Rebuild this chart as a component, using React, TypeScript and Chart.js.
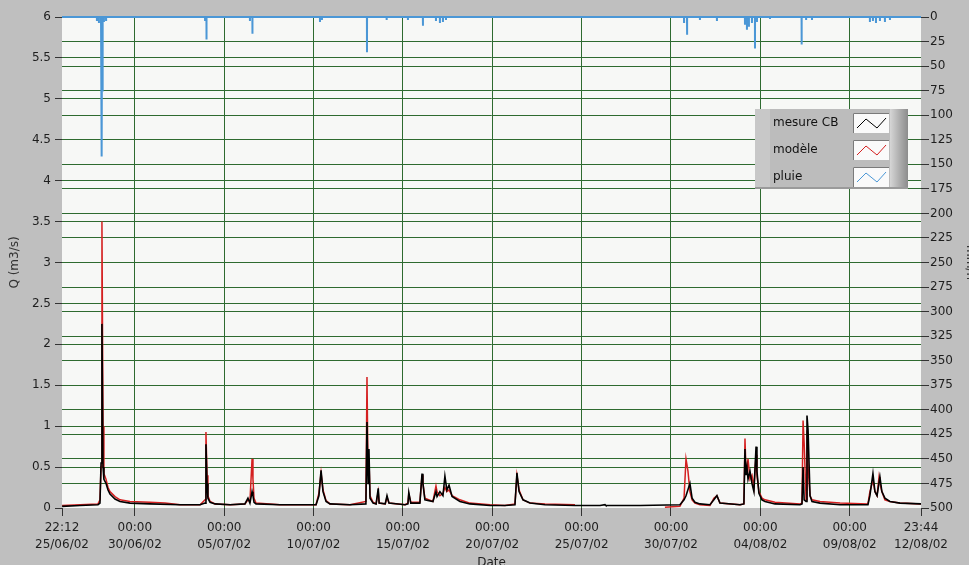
import React, { useEffect, useRef } from "react";
import { Chart, registerables } from "chart.js";
Chart.register(...registerables);

// ---- Data (x in days since 25/06/02 00:00) ----
const xTickDays = [0.925, 5, 10, 15, 20, 25, 30, 35, 40, 45, 48.989];
const xTickTimes = ["22:12", "00:00", "00:00", "00:00", "00:00", "00:00", "00:00", "00:00", "00:00", "00:00", "23:44"];
const xTickDates = ["25/06/02", "30/06/02", "05/07/02", "10/07/02", "15/07/02", "20/07/02", "25/07/02", "30/07/02", "04/08/02", "09/08/02", "12/08/02"];

const mesureDays = [0.93, 1.93, 2.94, 3.05, 3.11, 3.16, 3.22, 3.27, 3.39, 3.5, 3.61, 3.89, 4.17, 4.73, 5.85, 7.53, 8.65, 8.93, 8.98, 9.04, 9.09, 9.21, 9.49, 10.33, 11.16, 11.33, 11.44, 11.56, 11.61, 11.67, 11.78, 13.12, 15.14, 15.3, 15.42, 15.53, 15.7, 15.92, 17.04, 17.93, 17.99, 18.05, 18.1, 18.16, 18.33, 18.5, 18.62, 18.67, 19.01, 19.11, 19.22, 20.12, 20.28, 20.33, 20.44, 20.95, 21.07, 21.12, 21.23, 21.68, 21.85, 21.91, 22.07, 22.24, 22.35, 22.46, 22.58, 22.75, 23.19, 23.75, 24.87, 25.71, 26.27, 26.38, 26.5, 26.72, 27.11, 27.95, 29.63, 31.03, 31.31, 31.36, 33.27, 35.5, 35.73, 35.84, 36.06, 36.18, 36.34, 36.62, 37.18, 37.4, 37.57, 37.74, 38.86, 39.08, 39.14, 39.19, 39.25, 39.31, 39.42, 39.53, 39.64, 39.76, 39.81, 39.92, 40.09, 40.26, 40.82, 42.22, 42.33, 42.39, 42.45, 42.56, 42.61, 42.67, 42.78, 42.89, 43.34, 44.46, 46.02, 46.13, 46.3, 46.41, 46.53, 46.69, 46.8, 46.97, 47.25, 47.81, 48.99];
const mesureQ = [0.02, 0.03, 0.04, 0.06, 0.55, 2.25, 0.5, 0.35, 0.3, 0.22, 0.17, 0.11, 0.08, 0.06, 0.05, 0.04, 0.04, 0.06, 0.78, 0.3, 0.12, 0.07, 0.05, 0.04, 0.05, 0.12, 0.06, 0.2, 0.15, 0.07, 0.05, 0.04, 0.04, 0.15, 0.46, 0.2, 0.08, 0.05, 0.04, 0.05, 1.05, 0.3, 0.72, 0.12, 0.06, 0.05, 0.24, 0.06, 0.05, 0.15, 0.06, 0.04, 0.05, 0.19, 0.06, 0.06, 0.42, 0.3, 0.1, 0.08, 0.2, 0.14, 0.2, 0.15, 0.39, 0.22, 0.28, 0.14, 0.08, 0.05, 0.03, 0.03, 0.04, 0.43, 0.2, 0.1, 0.06, 0.04, 0.03, 0.03, 0.04, 0.03, 0.03, 0.04, 0.1, 0.15, 0.3, 0.12, 0.07, 0.05, 0.04, 0.1, 0.15, 0.06, 0.04, 0.05, 0.72, 0.4, 0.5, 0.35, 0.45, 0.3, 0.2, 0.75, 0.45, 0.18, 0.1, 0.08, 0.05, 0.04, 0.05, 0.5, 0.1, 0.08, 1.13, 0.95, 0.15, 0.08, 0.06, 0.04, 0.04, 0.15, 0.42, 0.2, 0.15, 0.38, 0.2, 0.12, 0.08, 0.06, 0.05];

const modeleDays = [0.93, 2.94, 3.05, 3.11, 3.16, 3.22, 3.27, 3.39, 3.5, 3.61, 3.89, 4.17, 4.73, 5.85, 6.69, 7.53, 8.65, 8.93, 8.98, 9.04, 9.09, 9.21, 9.49, 10.33, 11.16, 11.33, 11.44, 11.56, 11.61, 11.67, 11.78, 13.12, 15.14, 15.3, 15.42, 15.53, 15.7, 15.92, 17.04, 17.93, 17.99, 18.05, 18.1, 18.16, 18.33, 18.5, 18.62, 18.67, 19.01, 19.11, 19.22, 20.12, 20.28, 20.33, 20.44, 20.95, 21.07, 21.12, 21.23, 21.68, 21.85, 21.91, 22.07, 22.24, 22.35, 22.46, 22.58, 22.75, 23.19, 23.75, 24.87, 25.71, 26.27, 26.38, 26.5, 26.72, 27.11, 27.95, 29.63, 29.7, 34.66, 35.5, 35.73, 35.84, 35.95, 36.06, 36.18, 36.34, 36.62, 37.18, 37.4, 37.57, 37.74, 38.86, 39.08, 39.14, 39.19, 39.25, 39.31, 39.42, 39.53, 39.64, 39.76, 39.81, 39.92, 40.09, 40.26, 40.82, 42.22, 42.33, 42.39, 42.45, 42.56, 42.61, 42.67, 42.78, 42.89, 43.34, 44.46, 46.02, 46.13, 46.25, 46.3, 46.41, 46.53, 46.64, 46.69, 46.8, 46.97, 47.25, 47.81, 48.99];
const modeleQ = [0.03, 0.05, 0.1, 0.5, 3.5, 1.0, 0.42, 0.35, 0.25, 0.2, 0.14, 0.1, 0.08, 0.07, 0.06, 0.04, 0.04, 0.1, 0.93, 0.4, 0.15, 0.08, 0.05, 0.04, 0.05, 0.1, 0.08, 0.6, 0.35, 0.12, 0.06, 0.04, 0.04, 0.18, 0.43, 0.22, 0.09, 0.05, 0.04, 0.08, 1.6, 0.4, 0.6, 0.15, 0.07, 0.05, 0.2, 0.06, 0.05, 0.13, 0.06, 0.04, 0.06, 0.17, 0.07, 0.07, 0.4, 0.3, 0.12, 0.08, 0.27, 0.2, 0.15, 0.18, 0.25, 0.2, 0.22, 0.15, 0.1, 0.06, 0.04, 0.03, 0.05, 0.4, 0.22, 0.1, 0.06, 0.05, 0.04, null, 0.01, 0.02, 0.12, 0.6, 0.45, 0.2, 0.1, 0.06, 0.04, 0.03, 0.12, 0.15, 0.06, 0.04, 0.05, 0.85, 0.5, 0.45, 0.6, 0.35, 0.4, 0.25, 0.65, 0.4, 0.2, 0.12, 0.1, 0.07, 0.05, 0.06, 1.07, 0.8, 0.1, 0.95, 0.5, 0.15, 0.1, 0.08, 0.06, 0.05, 0.2, 0.3, 0.35, 0.2, 0.15, 0.38, 0.3, 0.2, 0.1, 0.08, 0.06, 0.05];

const pluieDays = [2.88, 2.99, 3.11, 3.16, 3.2, 3.27, 3.39, 8.93, 9.01, 11.44, 11.58, 15.36, 15.47, 17.99, 19.09, 20.28, 21.12, 21.85, 22.07, 22.24, 22.41, 35.73, 35.9, 36.62, 37.57, 39.14, 39.25, 39.36, 39.53, 39.7, 39.81, 40.54, 42.31, 42.56, 42.89, 46.13, 46.3, 46.47, 46.69, 46.97, 47.25];
const pluieMm = [-4, -6, -8, -142, -76, -5, -3, -3, -23, -4, -17, -5, -3, -36, -3, -3, -9, -4, -6, -5, -3, -5, -18, -3, -4, -8, -13, -10, -6, -32, -5, -2, -28, -3, -3, -5, -4, -6, -4, -5, -3];

const legendNames = ["mesure CB", "modèle", "pluie"];

const BG = "#bfbfbf";
const PLOT_BG = "#f7f8f6";
const GRID = "#2e6b30";
const TICK = "#333333";
const BLACK = "#000000";
const RED = "#d42020";
const BLUE = "#4b97d6";
const FONT = "DejaVu Sans";

function pairs(xs: number[], ys: (number | null)[]) {
  return xs.map((x, i) => ({ x, y: ys[i] }));
}

function rainSeries() {
  const pts: { x: number; y: number }[] = [{ x: xTickDays[0], y: 0 }];
  pluieDays.forEach((t, i) => {
    pts.push({ x: t - 0.004, y: 0 });
    pts.push({ x: t, y: pluieMm[i] });
    pts.push({ x: t + 0.004, y: 0 });
  });
  pts.push({ x: xTickDays[xTickDays.length - 1], y: 0 });
  return pts;
}

const bgPlugin = {
  id: "lvBackground",
  beforeDraw(chart: any) {
    const { ctx, chartArea: a, width, height } = chart;
    ctx.save();
    ctx.fillStyle = BG;
    ctx.fillRect(0, 0, width, height);
    ctx.fillStyle = PLOT_BG;
    ctx.fillRect(a.left, a.top, a.right - a.left, a.bottom - a.top);
    ctx.restore();
  },
};

const legendPlugin = {
  id: "lvLegend",
  afterDraw(chart: any) {
    const { ctx, chartArea: a } = chart;
    const x0 = a.right - 166;
    const y0 = a.top + 92;
    const w = 153;
    const h = 80;
    const colors = chart.data.datasets.map((d: any) => d.borderColor);
    ctx.save();
    ctx.fillStyle = "#bcbcbc";
    ctx.fillRect(x0, y0, w, h);
    ctx.fillStyle = "#c8c8c8";
    ctx.fillRect(x0, y0, 15, h);
    const g = ctx.createLinearGradient(x0 + w - 18, 0, x0 + w, 0);
    g.addColorStop(0, "#d6d6d6");
    g.addColorStop(0.5, "#b0b0b0");
    g.addColorStop(1, "#8c8c8c");
    ctx.fillStyle = g;
    ctx.fillRect(x0 + w - 18, y0, 18, h);
    ctx.fillStyle = "#9a9a9a";
    ctx.fillRect(x0, y0 + h - 2, w, 2);
    ctx.font = `12px "${FONT}"`;
    ctx.textBaseline = "middle";
    ctx.textAlign = "left";
    const rowY = [14, 41, 68];
    legendNames.forEach((name, i) => {
      const cy = y0 + rowY[i];
      ctx.fillStyle = "#111111";
      ctx.fillText(name, x0 + 18, cy);
      const bx = x0 + 98;
      const by = cy - 10;
      const bw = 36;
      const bh = 20;
      ctx.fillStyle = "#fafafa";
      ctx.fillRect(bx, by, bw, bh);
      ctx.strokeStyle = "#7a7a7a";
      ctx.lineWidth = 1;
      ctx.beginPath();
      ctx.moveTo(bx + 0.5, by + bh);
      ctx.lineTo(bx + 0.5, by + 0.5);
      ctx.lineTo(bx + bw, by + 0.5);
      ctx.stroke();
      ctx.strokeStyle = colors[i];
      ctx.beginPath();
      ctx.moveTo(bx + 4, by + 15);
      ctx.lineTo(bx + 13, by + 6);
      ctx.lineTo(bx + 24, by + 15);
      ctx.lineTo(bx + 33, by + 5);
      ctx.stroke();
    });
    ctx.restore();
  },
};

export default function App() {
  const ref = useRef<HTMLCanvasElement | null>(null);

  useEffect(() => {
    if (!ref.current) return;
    Chart.defaults.font.family = FONT;
    Chart.defaults.font.size = 12;
    const last = xTickDays.length - 1;
    const chart = new Chart(ref.current, {
      type: "line",
      data: {
        datasets: [
          {
            label: legendNames[0],
            data: pairs(mesureDays, mesureQ),
            borderColor: BLACK,
            borderWidth: 1.6,
            pointRadius: 0,
            yAxisID: "y",
            spanGaps: false,
          },
          {
            label: legendNames[1],
            data: pairs(modeleDays, modeleQ),
            borderColor: RED,
            borderWidth: 1.5,
            pointRadius: 0,
            yAxisID: "y",
            spanGaps: false,
          },
          {
            label: legendNames[2],
            data: rainSeries(),
            borderColor: BLUE,
            borderWidth: 2,
            pointRadius: 0,
            yAxisID: "y2",
            clip: false,
          },
        ],
      },
      options: {
        animation: false,
        responsive: false,
        maintainAspectRatio: false,
        layout: { padding: { top: 17, left: 0, right: 0, bottom: 0 } },
        plugins: { legend: { display: false }, tooltip: { enabled: false } },
        scales: {
          x: {
            type: "linear",
            min: xTickDays[0],
            max: xTickDays[last],
            afterBuildTicks: (axis: any) => {
              axis.ticks = xTickDays.map((v) => ({ value: v }));
            },
            afterFit: (s: any) => {
              s.height = 57;
            },
            ticks: {
              autoSkip: false,
              maxRotation: 0,
              minRotation: 0,
              padding: 3,
              color: "#1e1e1e",
              font: { family: FONT, size: 12, lineHeight: 1.42 },
              callback: (_v: any, i: number) => [xTickTimes[i], xTickDates[i]],
            },
            grid: {
              color: (c: any) => (c.index === 0 || c.index === last ? "rgba(0,0,0,0)" : GRID),
              tickColor: TICK,
              tickLength: 8,
              lineWidth: 1,
            },
            border: { display: false },
            title: {
              display: true,
              text: "Date",
              color: "#1e1e1e",
              font: { family: FONT, size: 12 },
              padding: { top: 0, bottom: -5 },
            },
          },
          y: {
            type: "linear",
            position: "left",
            min: 0,
            max: 6,
            afterFit: (s: any) => {
              s.width = 62;
            },
            ticks: {
              stepSize: 0.5,
              padding: 4,
              color: "#1e1e1e",
              font: { family: FONT, size: 12 },
              callback: (v: any) => String(Number(v)),
            },
            grid: {
              color: (c: any) => (c.tick && (c.tick.value === 0 || c.tick.value === 6) ? "rgba(0,0,0,0)" : GRID),
              tickColor: TICK,
              tickLength: 7,
              lineWidth: 1,
            },
            border: { display: false },
            title: {
              display: true,
              text: "Q (m3/s)",
              color: "#333333",
              font: { family: FONT, size: 12 },
              padding: { top: 8, bottom: 0 },
            },
          },
          y2: {
            type: "linear",
            position: "right",
            min: -500,
            max: 0,
            afterFit: (s: any) => {
              s.width = 48;
            },
            ticks: {
              stepSize: 25,
              padding: 1,
              color: "#1e1e1e",
              font: { family: FONT, size: 12 },
              callback: (v: any) => String(Math.abs(Number(v))),
            },
            grid: {
              color: (c: any) => (c.tick && (c.tick.value === 0 || c.tick.value === -500) ? "rgba(0,0,0,0)" : GRID),
              tickColor: TICK,
              tickLength: 8,
              lineWidth: 1,
            },
            border: { display: false },
            title: {
              display: true,
              text: "mm/h",
              color: "#333333",
              font: { family: FONT, size: 12 },
              padding: { top: -8, bottom: 0 },
            },
          },
        },
      },
      plugins: [bgPlugin, legendPlugin],
    } as any);
    return () => chart.destroy();
  }, []);

  return (
    <div style={{ position: "fixed", left: 0, top: 0, width: 969, height: 565, background: BG }}>
      <canvas ref={ref} width={969} height={565} style={{ display: "block" }} />
    </div>
  );
}
